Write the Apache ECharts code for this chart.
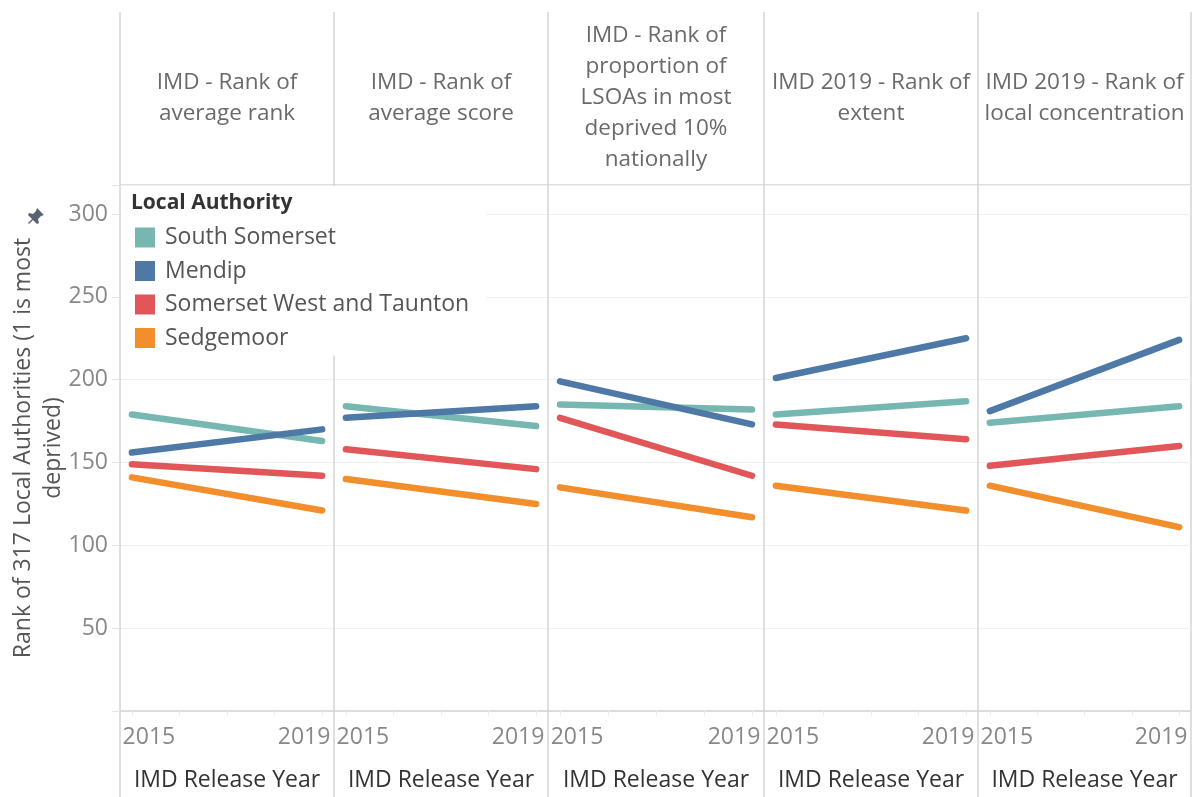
<!DOCTYPE html>
<html>
<head>
<meta charset="utf-8">
<script src="https://cdn.jsdelivr.net/npm/echarts@6/dist/echarts.min.js"></script>
<style>
  html, body { margin: 0; padding: 0; background: #fff; }
  #imd_chart { width: 1196px; height: 797px; }
</style>
</head>
<body>
<div id="imd_chart"></div>
<script>
// panels (measures) shown left to right
const panels = [
  'IMD - Rank of\naverage rank',
  'IMD - Rank of\naverage score',
  'IMD - Rank of\nproportion of\nLSOAs in most\ndeprived 10%\nnationally',
  'IMD 2019 - Rank of\nextent',
  'IMD 2019 - Rank of\nlocal concentration'
];
const years = [2015, 2019];
const authorities = ['South Somerset', 'Mendip', 'Somerset West and Taunton', 'Sedgemoor'];
const colors = ['#76b7b2', '#4e79a7', '#e15759', '#f28e2b'];

// [2015, 2019] rank per panel
const southSomerset = [[179, 163], [184, 172], [185, 182], [179, 187], [174, 184]];
const mendip        = [[156, 170], [177, 184], [199, 173], [201, 225], [181, 224]];
const swTaunton     = [[149, 142], [158, 146], [177, 142], [173, 164], [148, 160]];
const sedgemoor     = [[141, 121], [140, 125], [135, 117], [136, 121], [136, 111]];
const allValues = [southSomerset, mendip, swTaunton, sedgemoor];

const yTicks = [50, 100, 150, 200, 250, 300];

const FONT = '"Open Sans"';
const FS = 23;
const edges = [120, 334, 548, 764, 978, 1191];
const plotTop = 185, plotBottom = 712;

let myChart = echarts.init(document.getElementById('imd_chart'));

let grids = [], xAxes = [], yAxes = [], series = [], titles = [];

panels.forEach((p, i) => {
  grids.push({
    left: edges[i], top: plotTop,
    width: edges[i + 1] - edges[i], height: plotBottom - plotTop
  });
  xAxes.push({
    type: 'value', gridIndex: i, min: 2014.75, max: 2019.25,
    axisLine: { show: true, lineStyle: { color: '#d4d4d4', width: 1.5 } },
    axisTick: { show: true, customValues: [2015, 2016, 2017, 2018, 2019], length: 5, lineStyle: { color: '#ececec' } },
    axisLabel: {
      customValues: years, margin: 15,
      formatter: v => v === 2015 ? '{l|' + v + '}' : '{r|' + v + '}',
      rich: {
        l: { padding: [0, 0, 0, 34], fontSize: FS, color: '#888', fontFamily: FONT },
        r: { padding: [0, 36, 0, 0], fontSize: FS, color: '#888', fontFamily: FONT }
      }
    },
    splitLine: { show: false },
    name: 'IMD Release Year', nameLocation: 'middle', nameGap: 58,
    nameTextStyle: { fontSize: FS, color: '#333', fontFamily: FONT, fontWeight: 500 }
  });
  yAxes.push({
    type: 'value', gridIndex: i, min: 0, max: 317.5, interval: 50,
    axisLine: { show: true, lineStyle: { color: '#d4d4d4', width: 1.5 } },
    axisTick: { show: i === 0, length: 8, lineStyle: { color: '#e4e4e4' } },
    axisLabel: {
      show: i === 0, margin: 12, fontSize: FS, color: '#888', fontFamily: FONT,
      formatter: v => yTicks.indexOf(v) >= 0 ? v : ''
    },
    splitLine: { show: true, lineStyle: { color: '#f0f0f0', width: 1 } },
    name: i === 0 ? 'Rank of 317 Local Authorities (1 is most\ndeprived)' : '',
    nameLocation: 'middle', nameGap: 52, nameRotate: 90, nameMoveOverlap: false,
    nameTextStyle: { fontSize: FS, color: '#555', fontFamily: FONT, lineHeight: 30 }
  });
  const lines = p.split('\n').length;
  titles.push({
    text: p, left: (edges[i] + edges[i + 1]) / 2, textAlign: 'center',
    top: 98 - lines * 31 / 2, padding: 0,
    textStyle: { fontSize: 22.5, fontWeight: 'normal', color: '#6a6a6a', fontFamily: FONT, lineHeight: 31 }
  });
  authorities.forEach((a, k) => {
    series.push({
      name: a, type: 'line', xAxisIndex: i, yAxisIndex: i,
      data: years.map((y, j) => [y, allValues[k][i][j]]),
      symbol: 'none', silent: true,
      lineStyle: { color: colors[k], width: 6.5, cap: 'round' },
      itemStyle: { color: colors[k] }
    });
  });
});

titles.push({
  text: 'Local Authority', left: 131, top: 193, padding: 0,
  textStyle: { fontSize: 21, fontWeight: 'bold', color: '#333', fontFamily: FONT }
});

// panel frame lines above and below the plot area
const frameStyle = { stroke: '#d4d4d4', lineWidth: 1.5 };
let frame = [];
edges.forEach(x => {
  frame.push({ type: 'line', shape: { x1: x, y1: 12, x2: x, y2: plotTop }, style: frameStyle });
  frame.push({ type: 'line', shape: { x1: x, y1: plotBottom, x2: x, y2: 797 }, style: frameStyle });
});
frame.push({ type: 'line', shape: { x1: edges[5], y1: plotTop, x2: edges[5], y2: plotBottom }, style: frameStyle });
frame.push({ type: 'line', shape: { x1: edges[0], y1: plotTop, x2: edges[5], y2: plotTop }, style: frameStyle });
// pin glyph next to the axis title
frame.push({
  type: 'polygon', x: 28, y: 208,
  shape: { points: [[9, 0], [16, 7], [13, 8], [10, 11], [11, 15], [9, 16], [5, 12], [1, 16], [0, 15], [4, 11], [0, 7], [1, 5], [5, 6], [8, 3]] },
  style: { fill: '#5a6270' }
});

myChart.setOption({
  animation: false,
  title: titles,
  legend: {
    data: authorities, orient: 'vertical', left: 122, top: 186,
    icon: 'rect', itemWidth: 20, itemHeight: 20, itemGap: 10.5,
    padding: [40, 17, 6, 13], backgroundColor: '#fff',
    textStyle: { fontSize: FS, color: '#555', fontFamily: FONT, lineHeight: 20, padding: [0, 0, 0, 5] }
  },
  grid: grids,
  xAxis: xAxes,
  yAxis: yAxes,
  graphic: frame,
  series: series
});
</script>
</body>
</html>
